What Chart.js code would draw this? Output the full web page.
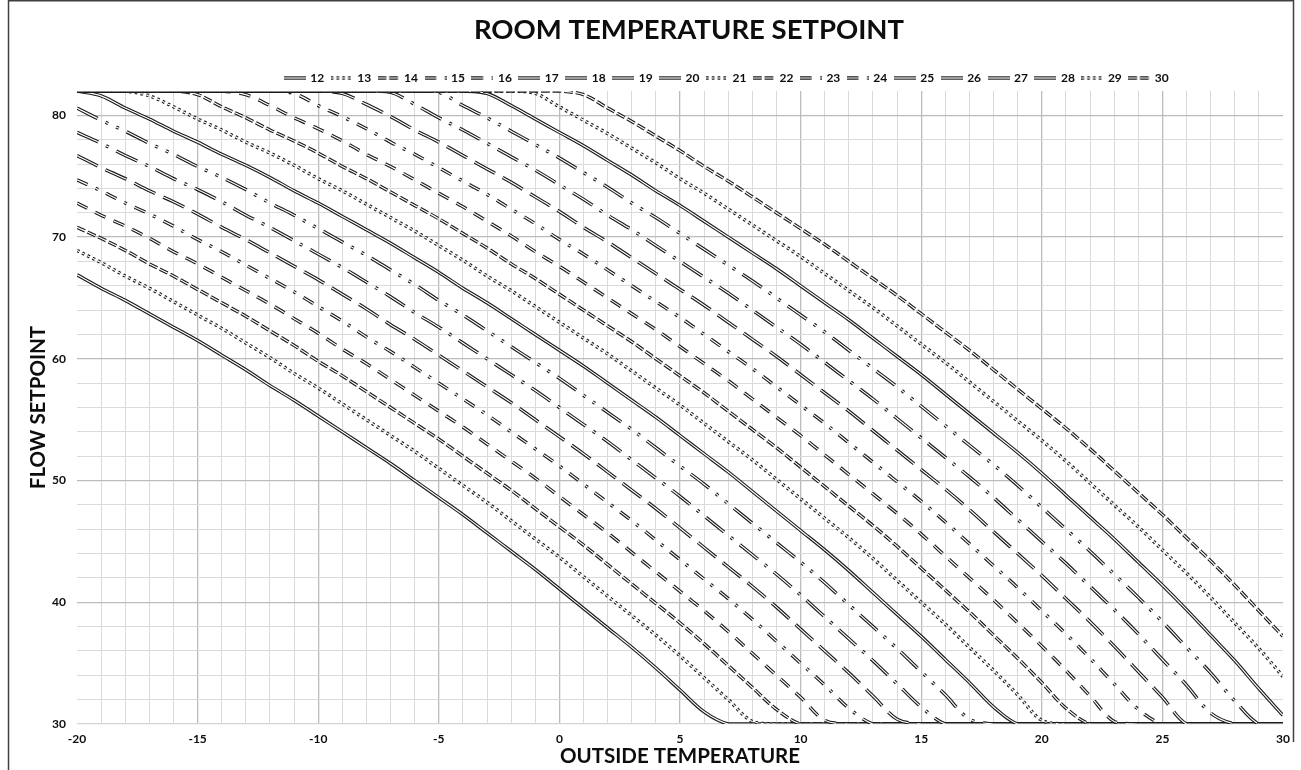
<!DOCTYPE html>
<html>
<head>
<meta charset="utf-8">
<script src="https://cdn.jsdelivr.net/npm/chart.js@4.4.1/dist/chart.umd.min.js"></script>
<style>
html,body{margin:0;padding:0;background:#fff;}
canvas{display:block;}
</style>
</head>
<body>
<canvas id="c" width="1301" height="770"></canvas>
<script>
// ---------- DATA ----------
const outsideTemps = [-20,-19,-18,-17,-16,-15,-14,-13,-12,-11,-10,-9,-8,-7,-6,-5,-4,-3,-2,-1,0,1,2,3,4,5,6,7,8,9,10,11,12,13,14,15,16,17,18,19,20,21,22,23,24,25,26,27,28,29,30];
const roomSetpoints = [12,13,14,15,16,17,18,19,20,21,22,23,24,25,26,27,28,29,30];
const xTickLabels = [-20,-15,-10,-5,0,5,10,15,20,25,30];
const yTickLabels = [30,40,50,60,70,80];

const s12 = [66.9,65.8,64.8,63.7,62.6,61.5,60.3,59.1,57.8,56.6,55.3,54.0,52.7,51.4,50.0,48.6,47.2,45.7,44.2,42.7,41.1,39.5,37.9,36.3,34.6,32.8,31.0,30,30,30,30,30,30,30,30,30,30,30,30,30,30,30,30,30,30,30,30,30,30,30,30];
const s13 = [68.9,67.9,66.8,65.8,64.7,63.6,62.5,61.3,60.1,58.8,57.6,56.3,55.0,53.7,52.4,51.0,49.6,48.2,46.7,45.2,43.7,42.1,40.5,38.9,37.3,35.6,33.8,32.0,30.2,30,30,30,30,30,30,30,30,30,30,30,30,30,30,30,30,30,30,30,30,30,30];
const s14 = [70.8,69.9,68.9,67.8,66.8,65.7,64.6,63.5,62.3,61.1,59.8,58.6,57.3,56.0,54.7,53.4,52.0,50.6,49.2,47.7,46.2,44.7,43.1,41.5,39.9,38.3,36.6,34.8,33.0,31.2,30,30,30,30,30,30,30,30,30,30,30,30,30,30,30,30,30,30,30,30,30];
const s15 = [72.8,71.8,70.9,69.9,68.8,67.8,66.7,65.6,64.5,63.3,62.1,60.8,59.6,58.3,57.0,55.7,54.4,53.0,51.6,50.2,48.7,47.2,45.7,44.1,42.5,40.9,39.3,37.6,35.8,34.0,32.2,30.3,30,30,30,30,30,30,30,30,30,30,30,30,30,30,30,30,30,30,30];
const s16 = [74.7,73.8,72.8,71.9,70.9,69.8,68.8,67.7,66.6,65.5,64.3,63.1,61.8,60.6,59.3,58.0,56.7,55.4,54.0,52.6,51.2,49.7,48.2,46.7,45.1,43.5,41.9,40.3,38.6,36.8,35.0,33.2,31.3,30,30,30,30,30,30,30,30,30,30,30,30,30,30,30,30,30,30];
const s17 = [76.7,75.7,74.8,73.8,72.9,71.9,70.8,69.8,68.7,67.6,66.5,65.3,64.1,62.8,61.6,60.3,59.0,57.7,56.4,55.0,53.6,52.2,50.7,49.2,47.7,46.1,44.5,42.9,41.3,39.6,37.8,36.0,34.2,32.3,30.4,30,30,30,30,30,30,30,30,30,30,30,30,30,30,30,30];
const s18 = [78.6,77.7,76.7,75.8,74.8,73.9,72.9,71.8,70.8,69.7,68.6,67.5,66.3,65.1,63.8,62.6,61.3,60.0,58.7,57.4,56.0,54.6,53.2,51.7,50.2,48.7,47.1,45.5,43.9,42.3,40.6,38.8,37.0,35.2,33.3,31.4,30,30,30,30,30,30,30,30,30,30,30,30,30,30,30];
const s19 = [80.6,79.6,78.7,77.7,76.8,75.8,74.9,73.9,72.8,71.8,70.7,69.6,68.5,67.3,66.1,64.8,63.6,62.3,61.0,59.7,58.4,57.0,55.6,54.2,52.7,51.2,49.7,48.1,46.5,44.9,43.3,41.6,39.8,38.0,36.2,34.3,32.4,30.4,30,30,30,30,30,30,30,30,30,30,30,30,30];
const s20 = [82,81.6,80.6,79.7,78.7,77.8,76.8,75.9,74.9,73.8,72.8,71.7,70.6,69.5,68.3,67.1,65.8,64.6,63.3,62.0,60.7,59.4,58.0,56.6,55.2,53.7,52.2,50.7,49.1,47.5,45.9,44.3,42.6,40.8,39.0,37.2,35.3,33.4,31.4,30,30,30,30,30,30,30,30,30,30,30,30];
const s21 = [82,82,82,81.6,80.7,79.7,78.8,77.8,76.9,75.9,74.8,73.8,72.7,71.6,70.5,69.3,68.1,66.8,65.6,64.3,63.0,61.7,60.4,59.0,57.6,56.2,54.7,53.2,51.7,50.1,48.5,46.9,45.3,43.6,41.8,40.0,38.2,36.3,34.4,32.4,30.3,30,30,30,30,30,30,30,30,30,30];
const s22 = [82,82,82,82,82,81.7,80.7,79.8,78.8,77.9,76.9,75.8,74.8,73.7,72.6,71.5,70.3,69.1,67.8,66.6,65.3,64.0,62.7,61.4,60.0,58.6,57.2,55.7,54.2,52.7,51.1,49.5,47.9,46.3,44.6,42.8,41.0,39.2,37.3,35.4,33.4,31.3,30,30,30,30,30,30,30,30,30];
const s23 = [82,82,82,82,82,82,82,81.7,80.8,79.8,78.9,77.9,76.8,75.8,74.7,73.6,72.5,71.3,70.1,68.8,67.6,66.3,65.0,63.7,62.4,61.0,59.6,58.2,56.7,55.2,53.7,52.1,50.5,48.9,47.3,45.6,43.8,42.0,40.2,38.3,36.4,34.4,32.3,30.2,30,30,30,30,30,30,30];
const s24 = [82,82,82,82,82,82,82,82,82,81.8,80.8,79.9,78.9,77.8,76.8,75.7,74.6,73.5,72.3,71.1,69.8,68.6,67.3,66.0,64.7,63.4,62.0,60.6,59.2,57.7,56.2,54.7,53.1,51.5,49.9,48.3,46.6,44.8,43.0,41.2,39.3,37.4,35.4,33.3,31.2,30,30,30,30,30,30];
const s25 = [82,82,82,82,82,82,82,82,82,82,82,81.8,80.9,79.9,78.8,77.8,76.7,75.6,74.5,73.3,72.1,70.8,69.6,68.3,67.0,65.7,64.4,63.0,61.6,60.2,58.7,57.2,55.7,54.1,52.5,50.9,49.3,47.6,45.8,44.0,42.2,40.3,38.4,36.4,34.3,32.2,30,30,30,30,30];
const s26 = [82,82,82,82,82,82,82,82,82,82,82,82,82,81.9,80.9,79.8,78.8,77.7,76.6,75.5,74.3,73.1,71.8,70.6,69.3,68.0,66.7,65.4,64.0,62.6,61.2,59.7,58.2,56.7,55.1,53.5,51.9,50.3,48.6,46.8,45.0,43.2,41.3,39.4,37.4,35.3,33.2,30.9,30,30,30];
const s27 = [82,82,82,82,82,82,82,82,82,82,82,82,82,82,82,81.9,80.8,79.8,78.7,77.6,76.5,75.3,74.1,72.8,71.6,70.3,69.0,67.7,66.4,65.0,63.6,62.2,60.7,59.2,57.7,56.1,54.5,52.9,51.3,49.6,47.8,46.0,44.2,42.3,40.4,38.4,36.3,34.2,31.9,30,30];
const s28 = [82,82,82,82,82,82,82,82,82,82,82,82,82,82,82,82,82,81.8,80.8,79.7,78.6,77.5,76.3,75.1,73.8,72.6,71.3,70.0,68.7,67.4,66.0,64.6,63.2,61.7,60.2,58.7,57.1,55.5,53.9,52.3,50.6,48.8,47.0,45.2,43.3,41.4,39.4,37.3,35.2,32.9,30.7];
const s29 = [82,82,82,82,82,82,82,82,82,82,82,82,82,82,82,82,82,82,82,81.8,80.7,79.6,78.5,77.3,76.1,74.8,73.6,72.3,71.0,69.7,68.4,67.0,65.6,64.2,62.7,61.2,59.7,58.1,56.5,54.9,53.3,51.6,49.8,48.0,46.2,44.3,42.4,40.4,38.3,36.2,33.9];
const s30 = [82,82,82,82,82,82,82,82,82,82,82,82,82,82,82,82,82,82,82,82,82,81.7,80.6,79.5,78.3,77.1,75.8,74.6,73.3,72.0,70.7,69.4,68.0,66.6,65.2,63.7,62.2,60.7,59.1,57.5,55.9,54.3,52.6,50.8,49.0,47.2,45.3,43.4,41.4,39.3,37.2];

const seriesValues = [s12,s13,s14,s15,s16,s17,s18,s19,s20,s21,s22,s23,s24,s25,s26,s27,s28,s29,s30];

// ---------- STYLE ----------
const FONT = 'Lato, "Open Sans", sans-serif';
const TEXT = '#0d0d0d';
const LINE_DARK = '#1a1a1a';
const OUTER_W = 3.4, INNER_W = 1.15;
const DASH = {
  solid: [],
  sysDot: [2.6, 3.2],
  sysDash: [8.7, 2.9],
  dash: [11.6, 8.7],
  dashDot: [11.6, 8.7, 2.9, 8.7],
  lgDash: [23.2, 8.7],
  lgDashDot: [23.2, 8.7, 2.9, 8.7],
  lgDashDotDot: [23.2, 8.7, 2.9, 8.7, 2.9, 8.7]
};
const dashCycle = ['solid','sysDot','sysDash','dash','dashDot','lgDash','lgDashDot','lgDashDotDot'];
const dashFor = i => DASH[dashCycle[i % 8]];

// legend icons: double line samples
function makeIcon(dash) {
  const cv = document.createElement('canvas');
  cv.width = 22; cv.height = 6;
  const c = cv.getContext('2d');
  c.lineCap = 'butt';
  c.setLineDash(dash);
  c.strokeStyle = LINE_DARK; c.lineWidth = OUTER_W;
  c.beginPath(); c.moveTo(0, 3); c.lineTo(22, 3); c.stroke();
  c.strokeStyle = '#ffffff'; c.lineWidth = INNER_W;
  c.beginPath(); c.moveTo(0, 3); c.lineTo(22, 3); c.stroke();
  return cv;
}
const legendIcons = roomSetpoints.map((n, i) => makeIcon(dashFor(i)));

// datasets: each series = dark outer stroke + white inner stroke (double line)
const datasets = [];
roomSetpoints.forEach((n, i) => {
  const pts = outsideTemps.map((t, k) => ({x: t, y: seriesValues[i][k]}));
  const common = {
    data: pts, pointRadius: 0, pointHoverRadius: 0, fill: false,
    tension: 0.33,
    borderDash: dashFor(i), borderCapStyle: 'butt', borderJoinStyle: 'round'
  };
  datasets.push(Object.assign({}, common, {label: String(n), borderColor: LINE_DARK, borderWidth: OUTER_W, order: 200 - 2 * i}));
  datasets.push(Object.assign({}, common, {label: String(n) + '_in', borderColor: '#ffffff', borderWidth: INNER_W, order: 199 - 2 * i}));
});

const gridX = v => {
  if (v === -20 || v === 30) return 'rgba(0,0,0,0)';
  return v % 5 === 0 ? '#bcbcbc' : '#dadada';
};
const gridY = v => {
  if (v === 82) return 'rgba(0,0,0,0)';
  if (v === 30) return '#d4d4d4';
  return v % 10 === 0 ? '#bcbcbc' : '#dadada';
};

const framePlugin = {
  id: 'frame',
  beforeDraw(chart) {
    const c = chart.ctx; c.save(); c.fillStyle = '#ffffff'; c.fillRect(0, 0, chart.width, chart.height); c.restore();
  },
  afterDraw(chart) {
    const c = chart.ctx; c.save();
    c.strokeStyle = '#404040'; c.lineWidth = 1.5;
    c.beginPath(); c.moveTo(8.5, 770); c.lineTo(8.5, 0.75); c.lineTo(1293.5, 0.75); c.lineTo(1293.5, 742); c.stroke();
    c.restore();
  }
};
const placePlugin = {
  id: 'place',
  afterLayout(chart) {
    const t = chart.titleBlock;
    if (t) { const w = t.right - t.left; t.left = 689 - w / 2; t.right = 689 + w / 2; }
    const l = chart.legend;
    if (l) { const w = l.right - l.left; l.left = 727 - w / 2; l.right = 727 + w / 2; l.top += 3; l.bottom += 3; }
  }
};

new Chart(document.getElementById('c'), {
  type: 'line',
  data: { datasets },
  plugins: [framePlugin, placePlugin],
  options: {
    responsive: false, animation: false, devicePixelRatio: 1, events: [],
    layout: { padding: { left: 18, right: 18, top: 0, bottom: 0 } },
    plugins: {
      tooltip: { enabled: false },
      title: {
        display: true, text: 'ROOM TEMPERATURE SETPOINT', color: TEXT,
        font: { family: FONT, weight: 'bold', size: 27.5 },
        padding: { top: 14, bottom: 14 }
      },
      legend: {
        display: true, position: 'top', onClick: null,
        labels: {
          color: TEXT, font: { family: FONT, weight: 'bold', size: 12 },
          usePointStyle: true, pointStyleWidth: 19, padding: 8,
          generateLabels: () => roomSetpoints.map((n, i) => ({
            text: String(n), pointStyle: legendIcons[i], fillStyle: 'rgba(0,0,0,0)',
            strokeStyle: 'rgba(0,0,0,0)', lineWidth: 0, hidden: false, datasetIndex: 2 * i, fontColor: TEXT
          }))
        }
      }
    },
    scales: {
      x: {
        type: 'linear', min: -20, max: 30,
        afterFit: s => { s.height = 46; },
        ticks: {
          stepSize: 1, autoSkip: false, maxRotation: 0, minRotation: 0, padding: 8, color: TEXT,
          font: { family: FONT, weight: 'bold', size: 12 },
          callback: v => xTickLabels.includes(v) ? String(v) : ''
        },
        grid: { color: c => gridX(c.tick.value), lineWidth: c => (c.tick.value % 5 === 0 ? 1.3 : 1), drawTicks: false },
        border: { display: false },
        title: { display: true, text: 'OUTSIDE TEMPERATURE', color: TEXT, font: { family: FONT, weight: 'bold', size: 20.5 }, padding: { top: 0, bottom: 1 } }
      },
      y: {
        type: 'linear', min: 30, max: 82,
        afterFit: s => { s.width = 59; },
        ticks: {
          stepSize: 2, autoSkip: false, padding: 11, color: TEXT,
          font: { family: FONT, weight: 'bold', size: 12 },
          callback: v => yTickLabels.includes(v) ? String(v) : ''
        },
        grid: { color: c => gridY(c.tick.value), lineWidth: c => (c.tick.value % 10 === 0 ? 1.3 : 1), drawTicks: false },
        border: { display: false },
        title: { display: true, text: 'FLOW SETPOINT', color: TEXT, font: { family: FONT, weight: 'bold', size: 20.5 }, padding: { top: 8, bottom: 0 } }
      }
    }
  }
});
</script>
</body>
</html>
